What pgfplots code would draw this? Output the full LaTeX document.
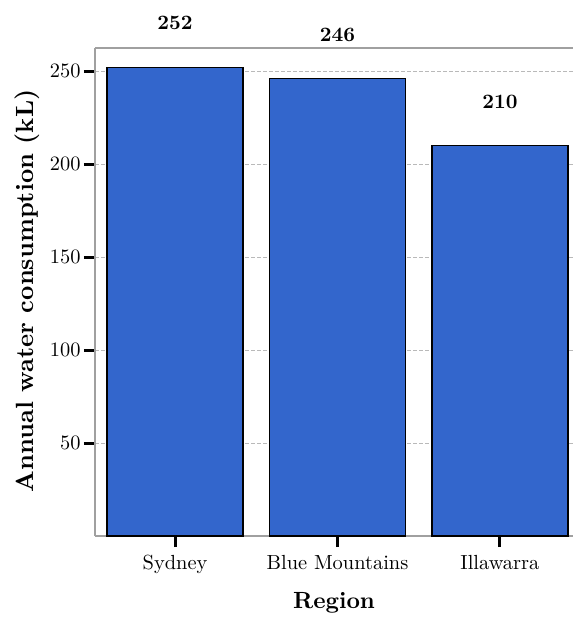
\documentclass[border=0pt]{standalone}
\usepackage{pgfplots}
\pgfplotsset{compat=1.18}
\usepackage{fontspec}
\setmainfont{lmroman10-regular.otf}[BoldFont=lmroman10-bold.otf, ItalicFont=lmroman10-italic.otf, BoldItalicFont=lmroman10-bolditalic.otf]
\definecolor{barblue}{RGB}{51,102,204}
\definecolor{spine}{RGB}{160,160,160}
\definecolor{gridc}{RGB}{185,185,185}
\begin{document}
\begin{tikzpicture}
\begin{axis}[
  name=ax,
  width=478bp, height=488bp, scale only axis,
  clip=false,
  xmin=-0.493, xmax=2.45,
  ymin=0, ymax=262.4,
  axis x line*=box, axis y line*=left,
  axis line style={spine, line width=1.2bp},
  xtick={0,1,2},
  xticklabels={Sydney, Blue Mountains, Illawarra},
  ytick={50,100,150,200,250},
  xtick pos=bottom, ytick pos=left,
  tick align=outside,
  major tick length=11bp,
  tick style={black, line width=3bp},
  ymajorgrids,
  major grid style={gridc, line width=0.8bp, dash pattern=on 4bp off 2bp},
  tick label style={font=\fontsize{20.5}{24}\selectfont},
  xticklabel style={yshift=-5bp},
  /pgf/number format/assume math mode=true,
  xlabel={\textbf{Region}},
  ylabel={\textbf{Annual water consumption (kL)}},
  every axis x label/.style={at={(axis description cs:0.5,0)}, yshift=-67bp, anchor=center, font=\fontsize{23.5}{28}\selectfont},
  every axis y label/.style={at={(axis description cs:0,0.5)}, xshift=-68bp, yshift=1bp, rotate=90, anchor=center, font=\fontsize{25}{30}\selectfont},
  ybar, bar width=0.838,
  nodes near coords,
  every node near coord/.append style={font=\fontsize{20.5}{24}\selectfont\bfseries, anchor=center, yshift=44bp, black},
]
\addplot[fill=barblue, draw=black, line width=1.5bp] coordinates {(0,252) (1,246) (2,210)};
\end{axis}
\path ([xshift=-95bp, yshift=48bp]ax.north west) rectangle ([yshift=-81bp]ax.south east);
\end{tikzpicture}
\end{document}
